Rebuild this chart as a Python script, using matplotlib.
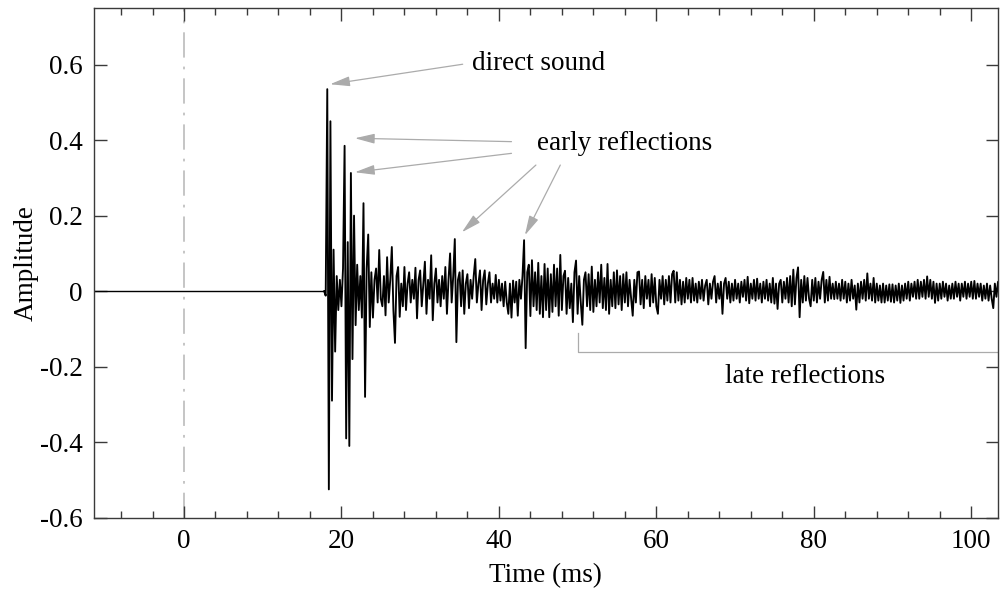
# Импульсная характеристика помещения (room impulse response)

import matplotlib.pyplot as plt
import numpy as np

# ==========================================
# ДАННЫЕ
# ==========================================

# тишина до прихода прямого звука
t_silence = [-12.0, 17.8]
amp_silence = [0.0, 0.0]

# отсчёты сигнала: начало и шаг по времени (мс)
t0 = 17.8
dt = 0.2

amplitude = [
    0.0, -0.012, 0.535, -0.525, 0.45, -0.29, 0.11, -0.16, 0.04, -0.05,
    0.03, -0.04, 0.06, 0.385, -0.39, 0.13, -0.41, 0.313, -0.18, 0.2,
    -0.09, 0.07, -0.05, 0.04, -0.07, 0.233, -0.28, 0.06, 0.15, -0.095,
    0.05, -0.07, 0.03, 0.06, -0.03, 0.109, -0.02, -0.04, 0.04, -0.064,
    0.09, -0.03, 0.03, 0.117, -0.05, -0.137, 0.04, 0.064, -0.068, 0.02,
    -0.04, 0.064, -0.05, 0.02, 0.05, -0.03, 0.03, -0.02, 0.062, -0.072,
    0.03, 0.055, -0.04, 0.02, 0.078, -0.06, 0.03, -0.02, 0.095, -0.077,
    0.02, 0.06, -0.03, 0.03, -0.04, 0.04, -0.02, 0.064, -0.06, 0.03,
    0.10, -0.03, 0.04, 0.138, -0.135, 0.03, 0.05, -0.04, 0.055, -0.06,
    0.02, 0.045, -0.045, 0.03, -0.02, 0.04, 0.085, -0.03, 0.02, 0.055,
    -0.05, 0.03, 0.055, -0.035, 0.02, 0.05, -0.03, 0.02, -0.02, 0.043,
    -0.03, 0.03, -0.025, 0.02, -0.04, 0.025, -0.03, -0.06, 0.02, -0.07,
    0.028, -0.03, 0.025, -0.065, 0.03, -0.02, 0.04, 0.135, -0.151, 0.05,
    0.07, -0.066, 0.082, -0.04, 0.05, -0.05, 0.075, -0.06, 0.04, -0.069,
    0.072, -0.05, 0.06, -0.069, 0.045, -0.055, 0.07, -0.04, 0.06, -0.065,
    0.096, -0.05, 0.04, 0.054, -0.06, 0.035, -0.045, 0.02, -0.082, 0.05,
    0.081, -0.06, 0.04, -0.03, -0.089, 0.03, 0.05, -0.04, 0.045, -0.05,
    0.065, -0.055, 0.03, -0.04, 0.05, -0.03, 0.07, -0.045, 0.035, -0.05,
    0.072, -0.06, 0.03, -0.04, 0.05, -0.045, 0.055, -0.035, 0.04, -0.05,
    0.045, -0.03, 0.05, -0.04, 0.03, -0.02, -0.065, 0.03, -0.03, 0.05,
    0.052, -0.035, 0.03, -0.045, 0.04, -0.02, 0.03, -0.04, 0.045, -0.03,
    0.035, -0.04, -0.06, 0.03, -0.02, 0.04, -0.035, 0.03, -0.025, 0.04,
    -0.03, 0.045, 0.054, -0.03, 0.05, -0.025, 0.03, -0.035, 0.025, -0.03,
    0.035, -0.02, 0.03, -0.03, 0.035, -0.025, 0.02, -0.03, 0.025, -0.02,
    0.03, -0.025, 0.015, 0.03, -0.035, 0.02, -0.02, 0.025, 0.04, -0.03,
    0.02, -0.02, 0.025, -0.06, 0.02, 0.035, -0.02, 0.025, -0.03, 0.02,
    -0.025, 0.03, -0.02, 0.02, -0.03, 0.025, -0.015, 0.03, -0.025, 0.038,
    -0.032, 0.02, -0.02, 0.03, -0.025, 0.033, -0.02, 0.02, -0.03, 0.025,
    -0.02, 0.03, -0.025, 0.02, -0.03, 0.035, -0.033, 0.02, -0.047, 0.02,
    0.03, -0.03, 0.025, -0.02, 0.035, -0.03, 0.04, -0.04, 0.057, -0.035,
    0.035, 0.063, -0.069, 0.03, -0.03, 0.04, -0.025, 0.035, -0.02, -0.04,
    0.03, -0.025, 0.035, -0.03, 0.025, -0.02, 0.03, 0.051, -0.03, 0.03,
    -0.025, 0.038, -0.02, 0.02, -0.021, 0.025, -0.02, 0.02, -0.025, 0.03,
    -0.02, 0.025, -0.03, 0.02, -0.025, 0.03, -0.02, 0.015, -0.049, 0.02,
    -0.03, 0.025, -0.02, 0.03, -0.025, 0.047, -0.02, 0.02, -0.025, 0.035,
    -0.03, 0.02, -0.025, 0.015, -0.03, 0.02, -0.03, 0.015, -0.025, 0.018,
    -0.028, 0.018, -0.03, 0.015, -0.025, 0.02, -0.031, 0.015, -0.025, 0.02,
    -0.02, 0.025, -0.025, 0.02, -0.015, 0.025, -0.02, 0.03, -0.02, 0.025,
    -0.015, 0.03, -0.02, 0.039, -0.015, 0.03, -0.02, 0.025, -0.031, 0.02,
    -0.025, 0.02, -0.02, 0.025, -0.015, 0.02, -0.025, 0.015, -0.02, 0.02,
    -0.02, 0.025, -0.015, 0.02, -0.025, 0.02, -0.015, 0.025, -0.02, 0.02,
    -0.015, 0.025, -0.02, 0.027, -0.02, 0.02, -0.015, 0.02, -0.025, 0.015,
    -0.02, 0.02, -0.025, 0.015, -0.02, -0.045, 0.02, -0.015, 0.025, -0.015,
]

# подписи: текст, позиция текста, начала и концы стрелок (мс, амплитуда)
direct_label = 'direct sound'
direct_text_xy = (36.6, 0.587)
direct_arrows = [((35.4, 0.601), (18.55, 0.548))]

early_label = 'early reflections'
early_text_xy = (44.85, 0.3735)
early_arrows = [
    ((41.6, 0.396), (21.7, 0.405)),
    ((41.6, 0.365), (21.7, 0.315)),
    ((44.7, 0.334), (35.3, 0.156)),
    ((47.8, 0.334), (43.3, 0.148)),
]

late_label = 'late reflections'
late_text_xy = (68.7, -0.2445)
late_bracket_t = [50.0, 50.0, 110.0]
late_bracket_amp = [-0.112, -0.161, -0.161]

# ==========================================
# ОФОРМЛЕНИЕ
# ==========================================

plt.rcParams['font.family'] = ['Liberation Serif', 'DejaVu Serif']
plt.rcParams['font.size'] = 19.5
plt.rcParams['axes.unicode_minus'] = False

spine_color = '#3a3a3a'
arrow_color = '#ababab'

fig = plt.figure(figsize=(10, 5.91), dpi=100)
ax = fig.add_axes([0.0937, 0.124, 0.9043, 0.8625])

t = t0 + dt * np.arange(len(amplitude))

# нулевая линия + сигнал
ax.plot(t_silence, amp_silence, color='black', linewidth=1.0)
ax.plot(t, amplitude, color='black', linewidth=1.35)

# момент излучения
ax.axvline(0, color='#c0c0c0', linewidth=1.3, linestyle=(0, (14, 5, 1.5, 5)),
           zorder=0)

# стрелки
arrow_props = dict(arrowstyle='-|>,head_length=0.8,head_width=0.2',
                   color=arrow_color, lw=0.9, mutation_scale=15,
                   shrinkA=0, shrinkB=0)
for start, tip in direct_arrows + early_arrows:
    ax.annotate('', xy=tip, xytext=start, arrowprops=arrow_props)

ax.text(*direct_text_xy, direct_label, ha='left', va='baseline')
ax.text(*early_text_xy, early_label, ha='left', va='baseline')
ax.text(*late_text_xy, late_label, ha='left', va='baseline')
ax.plot(late_bracket_t, late_bracket_amp, color=arrow_color, linewidth=0.9)

# оси
ax.set_xlim(-11.47, 103.4)
ax.set_ylim(-0.6, 0.75)
ax.set_xticks([0, 20, 40, 60, 80, 100])
ax.set_xticks(np.arange(-8, 104, 4), minor=True)
ax.set_yticks([-0.6, -0.4, -0.2, 0, 0.2, 0.4, 0.6])
ax.set_yticklabels(['-0.6', '-0.4', '-0.2', '0', '0.2', '0.4', '0.6'])

ax.tick_params(which='both', direction='in', top=True, right=True,
               color=spine_color, width=1.0)
ax.tick_params(which='major', length=9, pad=8)
ax.tick_params(which='minor', length=5)
ax.tick_params(axis='y', which='minor', left=False, right=False)
for s in ax.spines.values():
    s.set_color(spine_color)
    s.set_linewidth(1.0)

ax.set_xlabel('Time (ms)', labelpad=7)
ax.set_ylabel('Amplitude', labelpad=1)

plt.savefig('out.png', dpi=100)
plt.close()
